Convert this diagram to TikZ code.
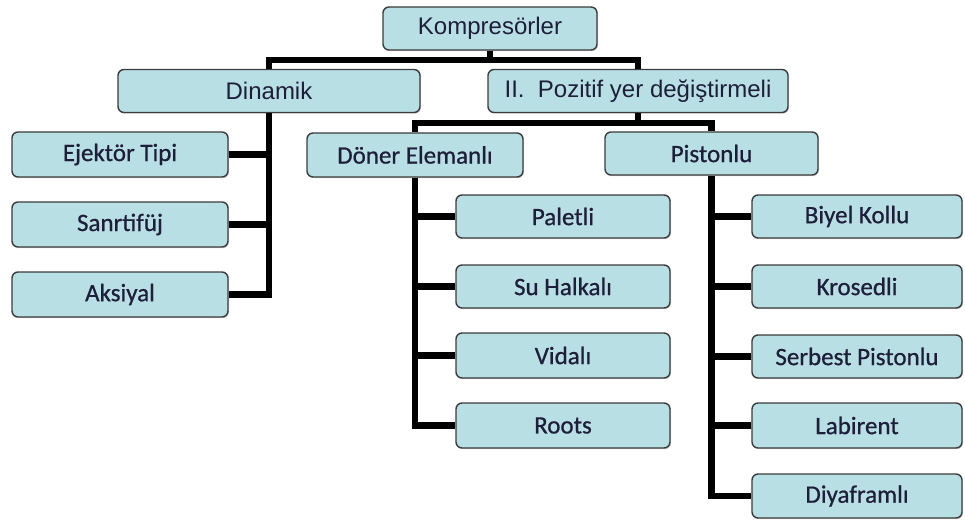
\documentclass[tikz,border=0pt]{standalone}
\usepackage{fontspec}
\setmainfont{Carlito}[FakeBold=0.7]
\newfontfamily\arialf{Liberation Sans}
\usetikzlibrary{shadows}
\definecolor{boxfill}{HTML}{B8DFE3}
\definecolor{boxline}{HTML}{3C3C3C}
\definecolor{txt}{HTML}{1E1E3A}
\tikzset{
  box/.style={draw=boxline, line width=1.4pt, fill=boxfill, rounded corners=6pt,
    minimum height=43pt, inner sep=0pt, text=txt, font=\fontsize{25}{28}\selectfont,
    drop shadow={shadow xshift=1pt, shadow yshift=-1.2pt, opacity=0.35}},
  abox/.style={box, font=\arialf\fontsize{24}{27}\selectfont},
  conn/.style={line width=6.5pt, line join=miter, black},
}
\begin{document}
\begin{tikzpicture}[x=1pt,y=-1pt]
\useasboundingbox (0,0) rectangle (965,521);
% top level
\node[abox, minimum width=214pt] (komp) at (490,28.5) {Kompresörler};
\node[abox, minimum width=302pt] (din) at (269,91) {Dinamik};
\node[abox, minimum width=300pt] (poz) at (638,91) {II.\ \ Pozitif yer değiştirmeli};
% dinamik children
\node[box, minimum width=216pt, minimum height=45pt] (ejek) at (120,154.5) {Ejektör Tipi};
\node[box, minimum width=216pt, minimum height=45pt] (sanr) at (120,224.5) {Sanrtifüj};
\node[box, minimum width=216pt, minimum height=45pt] (aks) at (120,294.5) {Aksiyal};
% pozitif children
\node[box, minimum width=216pt, minimum height=44pt] (doner) at (415,155) {Döner Elemanlı};
\node[box, minimum width=213pt] (pist) at (711.5,153.5) {Pistonlu};
% doner children
\node[box, minimum width=214pt] (palet) at (563,216.5) {Paletli};
\node[box, minimum width=214pt] (su) at (563,286.5) {Su Halkalı};
\node[box, minimum width=214pt, minimum height=45pt] (vida) at (563,355.5) {Vidalı};
\node[box, minimum width=214pt, minimum height=45pt] (roots) at (563,425.5) {Roots};
% pistonlu children
\node[box, minimum width=210pt] (biyel) at (857,216.5) {Biyel Kollu};
\node[box, minimum width=210pt] (kros) at (857,286.5) {Krosedli};
\node[box, minimum width=210pt] (serb) at (857,356.5) {Serbest Pistonlu};
\node[box, minimum width=210pt, minimum height=45pt] (labi) at (857,425.5) {Labirent};
\node[box, minimum width=210pt, minimum height=44pt] (diya) at (857,496) {Diyaframlı};
% connectors
\coordinate (topbar) at (490,60);
\coordinate (pbar) at (638,123);
\draw[conn, line width=5.5pt] (komp.south) -- (topbar);
\draw[conn, line width=5.5pt] (din.north) |- (topbar) -| (poz.north);
\draw[conn] (poz.south) -- (pbar);
\draw[conn] (doner.north) |- (pbar) -| (pist.north);
\draw[conn] (din.south) |- (aks.east);
\draw[conn] (ejek.east) -- (ejek.east -| din.south);
\draw[conn] (sanr.east) -- (sanr.east -| din.south);
\draw[conn] (doner.south) |- (roots.west);
\draw[conn] (palet.west) -- (palet.west -| doner.south);
\draw[conn] (su.west) -- (su.west -| doner.south);
\draw[conn] (vida.west) -- (vida.west -| doner.south);
\draw[conn] (pist.south) |- (diya.west);
\draw[conn] (biyel.west) -- (biyel.west -| pist.south);
\draw[conn] (kros.west) -- (kros.west -| pist.south);
\draw[conn] (serb.west) -- (serb.west -| pist.south);
\draw[conn] (labi.west) -- (labi.west -| pist.south);
\end{tikzpicture}
\end{document}
